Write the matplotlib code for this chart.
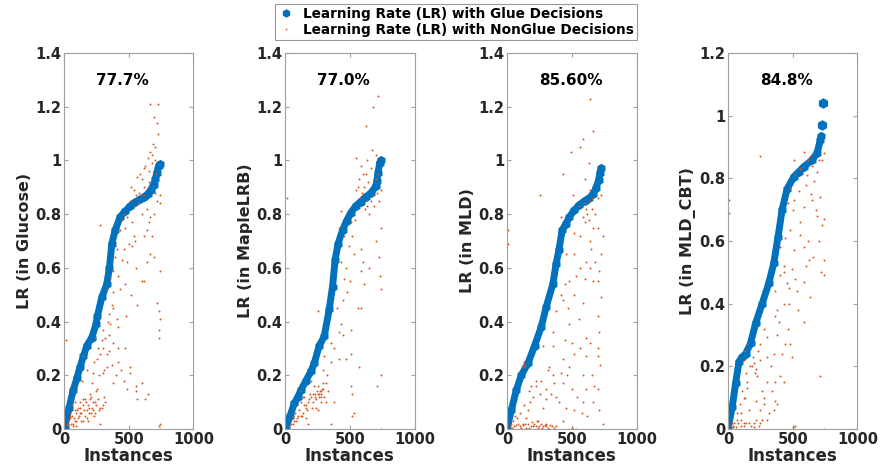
import matplotlib
matplotlib.use("Agg")
import matplotlib.pyplot as plt
from matplotlib.ticker import FuncFormatter

plt.rcParams['font.family'] = ['DejaVu Sans']
plt.rcParams['font.weight'] = 'bold'

BLUE = '#0072BD'
ORANGE = '#D95319'

solvers = ['Glucose', 'MapleLRB', 'MLD', 'MLD_CBT']
percents = ['77.7%', '77.0%', '85.60%', '84.8%']
ymax = [1.4, 1.4, 1.4, 1.2]

# glue decisions (sorted learning rate curve)
glue_x1 = [0, 8, 40, 72, 100, 124, 150, 176, 214, 248, 258, 292, 331, 351, 370, 395, 434, 470, 512, 550, 589, 620, 646, 670, 692, 705, 718, 731, 740]
glue_y1 = [0.0, 0.01, 0.08, 0.145, 0.19, 0.23, 0.27, 0.31, 0.34, 0.39, 0.42, 0.49, 0.54, 0.60, 0.69, 0.74, 0.79, 0.81, 0.83, 0.845, 0.855, 0.865, 0.875, 0.89, 0.91, 0.93, 0.955, 0.98, 0.985]

glue_x2 = [0, 8, 40, 72, 100, 123, 162, 200, 226, 264, 303, 341, 367, 387, 410, 444, 475, 508, 545, 585, 625, 662, 700, 710, 718, 731, 740]
glue_y2 = [0.0, 0.006, 0.05, 0.096, 0.12, 0.145, 0.18, 0.215, 0.245, 0.31, 0.345, 0.445, 0.53, 0.63, 0.69, 0.74, 0.775, 0.805, 0.83, 0.847, 0.865, 0.878, 0.903, 0.925, 0.953, 0.99, 1.0]

glue_x3 = [0, 33, 72, 110, 162, 213, 264, 303, 354, 379, 400, 426, 455, 482, 520, 559, 600, 636, 665, 687, 708, 718, 725]
glue_y3 = [0.0, 0.07, 0.145, 0.20, 0.245, 0.31, 0.38, 0.455, 0.54, 0.615, 0.665, 0.74, 0.765, 0.79, 0.815, 0.835, 0.85, 0.86, 0.875, 0.897, 0.928, 0.955, 0.97]

glue_x4 = [0, 33, 59, 85, 110, 136, 174, 213, 264, 315, 354, 387, 418, 456, 508, 545, 585, 649, 687, 713, 720]
glue_y4 = [0.0, 0.071, 0.146, 0.215, 0.23, 0.24, 0.273, 0.337, 0.40, 0.465, 0.53, 0.614, 0.70, 0.765, 0.805, 0.82, 0.837, 0.858, 0.88, 0.922, 0.935]

# isolated glue points above the curve
glue_top_x = [[], [], [], [726, 731]]
glue_top_y = [[], [], [], [0.97, 1.04]]

# non-glue decisions
ng_x1 = [662, 724, 693, 718, 724, 687, 705, 667, 680, 646, 628, 615, 654, 589, 563, 602, 517, 537, 576, 594, 615, 744, 718, 744, 512, 550,
         460, 486, 447, 667, 693, 525, 473, 654, 279, 434, 537, 499, 641, 615, 680, 460, 525, 408, 395, 447, 486, 667, 693, 744, 615,
         382, 421, 357, 473, 331, 382, 434, 563, 718, 731, 370, 344, 408, 305, 357, 318, 382, 344, 279, 253, 421, 331, 227, 305, 382,
         512, 460, 214, 253, 150, 202, 124, 176, 98, 47, 85, 21, 72, 124, 240, 292, 227, 558, 628, 563, 744, 731, 736, 744, 16, 240,
         150, 137, 279, 189, 85, 486, 512, 150, 170, 190, 210, 230, 250, 270, 300, 320, 110, 130, 60, 90, 200, 160, 300, 350, 420, 470,
         560, 600, 650, 730, 740,
         35, 45, 55, 65, 75, 85, 95, 105, 115, 125, 135, 145, 155, 165, 175, 185, 195, 205, 215, 225, 240, 260, 280, 310, 30, 50, 70, 90,
         180, 230, 260, 290, 330, 370, 400, 340, 380, 310, 270, 250, 420, 440, 600, 640, 560, 520, 480, 550, 600, 640, 700, 710, 680, 700,
         660, 620, 560, 580]
ng_y1 = [1.21, 1.21, 1.16, 1.14, 1.10, 1.06, 1.05, 1.03, 1.02, 1.01, 0.98, 0.97, 0.96, 0.95, 0.94, 0.93, 0.90, 0.89, 0.88, 0.87, 0.87, 0.87, 0.85, 0.84, 0.85, 0.83,
         0.80, 0.79, 0.78, 0.79, 0.80, 0.77, 0.75, 0.77, 0.76, 0.74, 0.72, 0.69, 0.74, 0.72, 0.72, 0.67, 0.68, 0.67, 0.64, 0.63, 0.62, 0.65, 0.64, 0.59, 0.55,
         0.59, 0.57, 0.56, 0.54, 0.52, 0.51, 0.52, 0.46, 0.47, 0.44, 0.46, 0.43, 0.41, 0.37, 0.39, 0.34, 0.32, 0.29, 0.28, 0.26, 0.25, 0.23, 0.21, 0.21, 0.17,
         0.23, 0.18, 0.17, 0.15, 0.11, 0.13, 0.08, 0.07, 0.07, 0.05, 0.03, 0.02, 0.02, 0.06, 0.10, 0.08, 0.07, 0.16, 0.11, 0.11, 0.02, 0.34, 0.37, 0.41, 0.33, 0.34,
         0.27, 0.18, 0.02, 0.03, 0.10, 0.15, 0.21, 0.09, 0.10, 0.08, 0.06, 0.05, 0.09, 0.07, 0.09, 0.10, 0.04, 0.03, 0.05, 0.06, 0.11, 0.05, 0.30, 0.35, 0.38, 0.30,
         0.14, 0.17, 0.13, 0.01, 0.0,
         0.03, 0.06, 0.02, 0.09, 0.04, 0.07, 0.01, 0.08, 0.05, 0.10, 0.06, 0.03, 0.07, 0.11, 0.04, 0.09, 0.06, 0.12, 0.08, 0.10, 0.06, 0.11, 0.08, 0.12, 0.015, 0.04, 0.01, 0.03,
         0.22, 0.25, 0.30, 0.33, 0.28, 0.24, 0.20, 0.40, 0.45, 0.22, 0.20, 0.14, 0.30, 0.22, 0.55, 0.62, 0.60, 0.50, 0.42, 0.70, 0.80, 0.82, 0.88, 0.95, 0.99, 1.00,
         0.92, 0.90, 0.87, 0.84]

ng_x2 = [718, 682, 623, 674, 700, 546, 636, 585, 623, 662, 572, 610, 546, 597, 662, 687, 726, 738, 713, 636, 738, 431, 508, 418, 456, 495,
         533, 585, 726, 731, 738, 585, 610, 431, 456, 482, 444, 585, 251, 431, 418, 508, 354, 303, 354, 508, 572, 328, 290, 226, 277,
         213, 187, 251, 162, 123, 85, 59, 174, 251, 354, 508, 520, 533, 520, 738, 713, 738, 15, 379, 315, 123, 290, 200, 149, 260, 270,
         280, 240, 230, 285, 200, 180, 160, 140, 100, 60, 30, 470,
         250, 265, 275, 290, 255, 280, 300, 235, 220, 205, 190, 170, 150, 130, 110, 90, 70, 50, 60, 80, 120, 140, 160, 240, 320, 330,
         560, 600, 640, 680, 700, 720, 580, 620, 650, 540, 520, 470, 500, 560, 600, 650, 700, 450, 380, 420, 400]
ng_y2 = [1.24, 1.20, 1.13, 1.04, 1.02, 1.01, 1.00, 0.98, 0.95, 0.97, 0.93, 0.90, 0.89, 0.88, 0.85, 0.83, 0.85, 0.89, 0.88, 0.83, 0.75, 0.81, 0.77, 0.75, 0.72, 0.68,
         0.65, 0.67, 0.64, 0.57, 0.52, 0.59, 0.54, 0.62, 0.56, 0.51, 0.48, 0.45, 0.44, 0.39, 0.36, 0.37, 0.32, 0.27, 0.25, 0.28, 0.23, 0.20, 0.17, 0.16, 0.14,
         0.13, 0.11, 0.13, 0.09, 0.05, 0.03, 0.02, 0.02, 0.07, 0.02, 0.16, 0.13, 0.06, 0.05, 0.20, 0.16, 0.0, 0.86, 0.10, 0.10, 0.14, 0.22, 0.18, 0.12, 0.13, 0.14,
         0.12, 0.11, 0.12, 0.15, 0.12, 0.10, 0.08, 0.06, 0.05, 0.04, 0.01, 0.26,
         0.14, 0.12, 0.13, 0.15, 0.16, 0.10, 0.12, 0.13, 0.10, 0.08, 0.13, 0.07, 0.09, 0.05, 0.07, 0.04, 0.03, 0.02, 0.05, 0.06, 0.10, 0.12, 0.04, 0.08, 0.17, 0.14,
         0.90, 0.95, 0.92, 0.87, 0.93, 0.95, 0.86, 0.82, 0.80, 0.78, 0.72, 0.60, 0.55, 0.45, 0.62, 0.60, 0.70, 0.35, 0.30, 0.26, 0.45]

ng_x3 = [641, 667, 585, 495, 564, 631, 436, 251, 605, 508, 641, 726, 559, 610, 585, 636, 662, 418, 520, 738, 649, 726, 456, 610, 713, 533,
         444, 662, 726, 431, 585, 379, 559, 700, 482, 354, 444, 713, 610, 277, 354, 520, 610, 700, 431, 328, 482, 136, 226, 354, 431,
         585, 674, 187, 251, 303, 174, 162, 277, 379, 456, 585, 610, 520, 713, 662, 46, 123, 200, 303, 379, 482, 533, 97, 238, 431, 738,
         5, 5, 20, 40, 70, 110, 140, 170, 210, 250, 270, 290, 320, 350, 500, 510, 80, 150, 230,
         30, 55, 85, 100, 120, 145, 160, 185, 195, 225, 240, 260, 280, 300, 330, 360, 60, 100, 130, 170, 200, 220, 260, 300, 320, 340,
         360, 400, 420, 460, 500, 540, 580, 620, 660, 700, 720, 700, 640, 560, 500, 470, 520, 560, 600, 640, 680, 700, 480, 420, 640,
         700, 600, 560, 520, 620, 660, 680, 600, 640, 700, 660, 125, 130, 135]
ng_y3 = [1.23, 1.11, 1.08, 1.03, 1.05, 0.99, 0.95, 0.87, 0.93, 0.87, 0.89, 0.87, 0.83, 0.82, 0.79, 0.78, 0.75, 0.79, 0.73, 0.72, 0.67, 0.65, 0.65, 0.62, 0.59, 0.57,
         0.54, 0.55, 0.49, 0.48, 0.47, 0.44, 0.41, 0.42, 0.39, 0.36, 0.33, 0.36, 0.34, 0.31, 0.31, 0.28, 0.27, 0.27, 0.26, 0.23, 0.23, 0.24, 0.18, 0.20, 0.17,
         0.20, 0.16, 0.16, 0.13, 0.11, 0.10, 0.07, 0.08, 0.12, 0.08, 0.10, 0.15, 0.07, 0.07, 0.10, 0.03, 0.02, 0.01, 0.01, 0.01, 0.0, 0.0, 0.01, 0.03, 0.03, 0.02,
         0.74, 0.69, 0.01, 0.005, 0.015, 0.005, 0.02, 0.005, 0.02, 0.01, 0.005, 0.015, 0.005, 0.01, 0.005, 0.0, 0.04, 0.04, 0.03,
         0.02, 0.01, 0.02, 0.0, 0.015, 0.005, 0.02, 0.01, 0.025, 0.01, 0.005, 0.02, 0.01, 0.02, 0.015, 0.005, 0.05, 0.06, 0.09, 0.14, 0.12, 0.16, 0.18, 0.15, 0.22, 0.13,
         0.17, 0.10, 0.21, 0.20, 0.15, 0.12, 0.06, 0.05, 0.20, 0.15, 0.24, 0.30, 0.32, 0.30, 0.32, 0.45, 0.50, 0.60, 0.56, 0.60, 0.62, 0.55, 0.55, 0.50, 0.70,
         0.75, 0.77, 0.72, 0.65, 0.80, 0.82, 0.80, 0.84, 0.85, 0.86, 0.86, 0.24, 0.23, 0.25]

ng_x4 = [246, 508, 585, 636, 738, 726, 559, 610, 662, 546, 508, 649, 713, 5, 5, 585, 687, 738, 726, 482, 559, 444, 405, 508, 585, 623,
         738, 738, 431, 495, 405, 456, 585, 533, 367, 636, 469, 379, 277, 392, 585, 303, 251, 482, 495, 354, 200, 187, 136, 226, 303,
         149, 431, 713, 123, 213, 277, 367, 251, 354, 72, 46, 123, 200, 303, 508, 738, 97, 162, 20, 35, 100, 140, 180, 220, 250, 500,
         520, 30, 300, 330, 250, 220,
         40, 60, 80, 100, 120, 160, 200, 240, 260, 70, 90, 110, 130, 150, 170, 190, 210, 230, 260, 280, 320, 340, 360, 380, 400, 420,
         440, 460, 380, 360, 430, 470, 520, 540, 600, 620, 660, 700, 720, 680, 640, 560, 600, 650, 690, 700, 620, 560, 520, 480, 460,
         500, 430, 150, 120, 130]
ng_y4 = [0.87, 0.86, 0.885, 0.87, 0.88, 0.86, 0.83, 0.81, 0.79, 0.76, 0.73, 0.73, 0.74, 0.73, 0.69, 0.71, 0.68, 0.67, 0.65, 0.635, 0.62, 0.61, 0.58, 0.57, 0.58, 0.54,
         0.54, 0.49, 0.52, 0.51, 0.49, 0.465, 0.47, 0.44, 0.44, 0.42, 0.40, 0.38, 0.32, 0.34, 0.34, 0.295, 0.27, 0.27, 0.23, 0.24, 0.21, 0.20, 0.18, 0.17, 0.15,
         0.15, 0.15, 0.17, 0.10, 0.09, 0.08, 0.09, 0.06, 0.06, 0.03, 0.02, 0.02, 0.02, 0.03, 0.0, 0.0, 0.05, 0.06, 0.01, 0.005, 0.01, 0.02, 0.01, 0.03, 0.02, 0.005,
         0.01, 0.02, 0.23, 0.20, 0.22, 0.19,
         0.01, 0.005, 0.02, 0.03, 0.01, 0.02, 0.005, 0.01, 0.03, 0.05, 0.08, 0.12, 0.10, 0.13, 0.20, 0.23, 0.18, 0.25, 0.12, 0.10, 0.05, 0.12, 0.15, 0.08, 0.17, 0.24,
         0.27, 0.32, 0.30, 0.36, 0.40, 0.45, 0.48, 0.38, 0.52, 0.60, 0.55, 0.60, 0.50, 0.70, 0.75, 0.66, 0.78, 0.84, 0.82, 0.86, 0.86, 0.83, 0.81, 0.77, 0.72,
         0.70, 0.50, 0.27, 0.22, 0.25]

glue_x = [glue_x1, glue_x2, glue_x3, glue_x4]
glue_y = [glue_y1, glue_y2, glue_y3, glue_y4]
ng_x = [ng_x1, ng_x2, ng_x3, ng_x4]
ng_y = [ng_y1, ng_y2, ng_y3, ng_y4]

fig = plt.figure(figsize=(8.81, 4.76), dpi=100)
lefts = [0.0726, 0.3235, 0.5755, 0.8263]

fmt = FuncFormatter(lambda v, p: f'{v:g}')
handles = None
for i in range(4):
    ax = fig.add_axes([lefts[i], 0.0987, 0.147, 0.790])
    h1, = ax.plot(glue_x[i], glue_y[i], '-h', color=BLUE, lw=5, ms=5.5,
                  solid_capstyle='round', solid_joinstyle='round')
    if glue_top_x[i]:
        ax.plot(glue_top_x[i], glue_top_y[i], 'h', color=BLUE, ms=6.5)
    h2, = ax.plot(ng_x[i], ng_y[i], 'o', color=ORANGE, ms=1.4, mew=0, lw=0)
    if handles is None:
        handles = [h1, h2]

    ax.set_xlim(0, 1000)
    ax.set_ylim(0, ymax[i])
    ax.set_xticks([0, 500, 1000])
    ax.set_yticks([k * 0.2 for k in range(int(round(ymax[i] / 0.2)) + 1)])
    ax.yaxis.set_major_formatter(fmt)
    ax.tick_params(direction='in', top=True, right=True, length=3,
                   color='#a0a0a0', labelsize=10.5, labelcolor='#262626', pad=2)
    for lab in ax.get_xticklabels() + ax.get_yticklabels():
        lab.set_fontweight('bold')
    for sp in ax.spines.values():
        sp.set_color('#a0a0a0')
    ax.set_xlabel('Instances', fontsize=12, fontweight='bold', color='#262626', labelpad=0)
    ax.set_ylabel(f'LR (in {solvers[i]})', fontsize=11.5, fontweight='bold', color='#262626', labelpad=2)
    ax.text(250, ymax[i] * 0.928, percents[i], fontsize=11, fontweight='bold',
            ha='left', va='center', color='black')

leg = fig.legend(handles, ['Learning Rate (LR) with Glue Decisions',
                           'Learning Rate (LR) with NonGlue Decisions'],
                 loc='center', bbox_to_anchor=(0.5176, 0.954), fancybox=False,
                 fontsize=9.8, handlelength=1.2, handletextpad=0.6, borderpad=0.25,
                 labelspacing=0.1, markerscale=1.0)
leg.get_frame().set_edgecolor('#808080')
leg.get_frame().set_linewidth(0.8)
for t in leg.get_texts():
    t.set_fontweight('bold')
leg.legend_handles[0].set_linestyle('none')
leg.legend_handles[0].set_markersize(5)
leg.legend_handles[1].set_markersize(1.2)

fig.savefig('out.png', dpi=100)
